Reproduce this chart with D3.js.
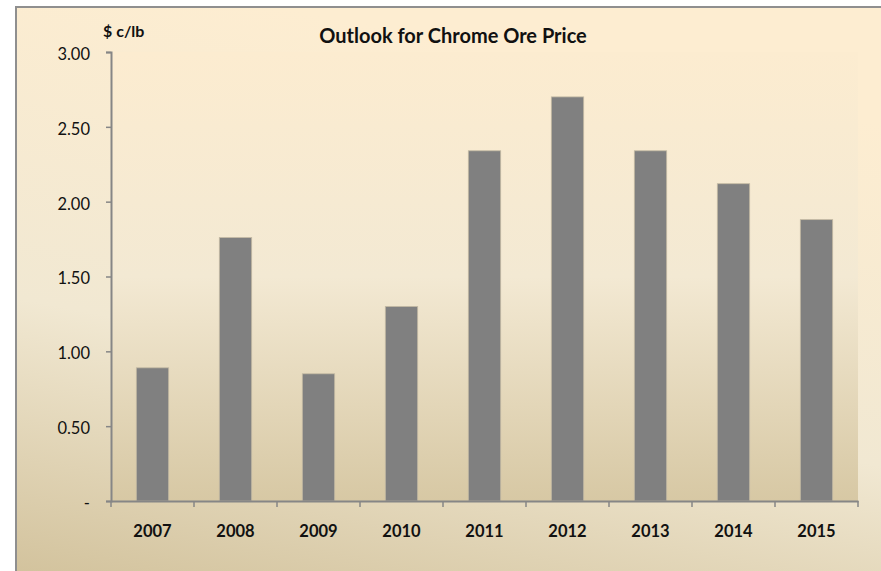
<!DOCTYPE html>
<html>
<head>
<meta charset="utf-8">
<script src="https://cdn.jsdelivr.net/npm/d3@7"></script>
<style>
  body { margin: 0; background: #fff; }
  text { font-family: Lato, "Open Sans", sans-serif; fill: #111; }
</style>
</head>
<body>
<div id="plot"></div>
<script>
// chart values
const years = ["2007", "2008", "2009", "2010", "2011", "2012", "2013", "2014", "2015"];
const prices = [0.89, 1.76, 0.85, 1.30, 2.34, 2.70, 2.34, 2.12, 1.88];
const yTicks = [0, 0.5, 1, 1.5, 2, 2.5, 3];

const w = 881;
const h = 571;
const margin = {top: 52, right: 23, bottom: 70, left: 111};

const svg = d3.select("#plot")
  .append("svg")
    .attr("width", w)
    .attr("height", h);

const defs = svg.append("defs");

// outer chart area gradient
const outerGrad = defs.append("linearGradient")
    .attr("id", "outerGrad")
    .attr("x1", 0.3).attr("y1", 0)
    .attr("x2", 0).attr("y2", 1);
outerGrad.append("stop").attr("offset", "0%").attr("stop-color", "#fdedd1");
outerGrad.append("stop").attr("offset", "55%").attr("stop-color", "#f1e8d2");
outerGrad.append("stop").attr("offset", "100%").attr("stop-color", "#d2c29c");

// plot area gradient
const plotGrad = defs.append("linearGradient")
    .attr("id", "plotGrad")
    .attr("x1", 0).attr("y1", 0)
    .attr("x2", 0).attr("y2", 1);
plotGrad.append("stop").attr("offset", "0%").attr("stop-color", "#fcecd0");
plotGrad.append("stop").attr("offset", "50%").attr("stop-color", "#f3e9d3");
plotGrad.append("stop").attr("offset", "100%").attr("stop-color", "#d7c8a4");

svg.append("rect")
    .attr("x", 16)
    .attr("y", 7)
    .attr("width", w)
    .attr("height", h)
    .attr("fill", "url(#outerGrad)")
    .attr("stroke", "#8f8f8f")
    .attr("stroke-width", 2);

const x = d3.scaleBand()
    .domain(years)
    .range([margin.left, w - margin.right])
    .paddingInner(0.61)
    .paddingOuter(0.305);

const y = d3.scaleLinear()
    .domain([0, 3])
    .range([h - margin.bottom, margin.top]);

// plot area
svg.append("rect")
    .attr("x", margin.left)
    .attr("y", y(3))
    .attr("width", w - margin.right - margin.left)
    .attr("height", y(0) - y(3))
    .attr("fill", "url(#plotGrad)");

// bars
svg.append("g")
  .selectAll("rect")
  .data(years)
  .join("rect")
    .attr("x", d => x(d))
    .attr("y", (d, i) => y(prices[i]))
    .attr("width", x.bandwidth())
    .attr("height", (d, i) => y(0) - y(prices[i]))
    .attr("fill", "#808080")
    .attr("stroke", "#c4baa3")
    .attr("stroke-width", 0.8);

// y axis
const yAxis = d3.axisLeft(y)
    .tickValues(yTicks)
    .tickSize(5)
    .tickPadding(16)
    .tickFormat(d => d === 0 ? "-" : d3.format(".2f")(d));

const gy = svg.append("g")
    .attr("transform", `translate(${margin.left},0)`)
    .call(yAxis);
gy.select(".domain").attr("stroke", "#868686").attr("stroke-width", 2);
gy.selectAll(".tick line").attr("stroke", "#868686").attr("stroke-width", 1.5);
gy.selectAll("text")
    .attr("dy", "0.45em")
    .style("font-size", "16.5px")
    .attr("fill", "#111");

// x axis
const xAxis = d3.axisBottom(x)
    .tickSize(0)
    .tickPadding(24);

const gx = svg.append("g")
    .attr("transform", `translate(0,${y(0)})`)
    .call(xAxis);
gx.select(".domain").attr("stroke", "#868686").attr("stroke-width", 2);
gx.selectAll("text")
    .style("font-size", "16.5px")
    .style("font-weight", "bold")
    .attr("fill", "#111");

// category boundary ticks
const step = x.step();
gx.selectAll(".sep")
  .data(d3.range(years.length + 1))
  .join("line")
    .attr("class", "sep")
    .attr("x1", i => margin.left + i * step)
    .attr("x2", i => margin.left + i * step)
    .attr("y1", 0)
    .attr("y2", 6)
    .attr("stroke", "#868686")
    .attr("stroke-width", 1.5);

// title and unit label
svg.append("text")
    .attr("x", 453)
    .attr("y", 43)
    .attr("text-anchor", "middle")
    .style("font-size", "20px")
    .style("font-weight", "bold")
    .text("Outlook for Chrome Ore Price");

svg.append("text")
    .attr("x", 103)
    .attr("y", 37)
    .style("font-size", "16px")
    .style("font-weight", "bold")
    .text("$ c/lb");
</script>
</body>
</html>
